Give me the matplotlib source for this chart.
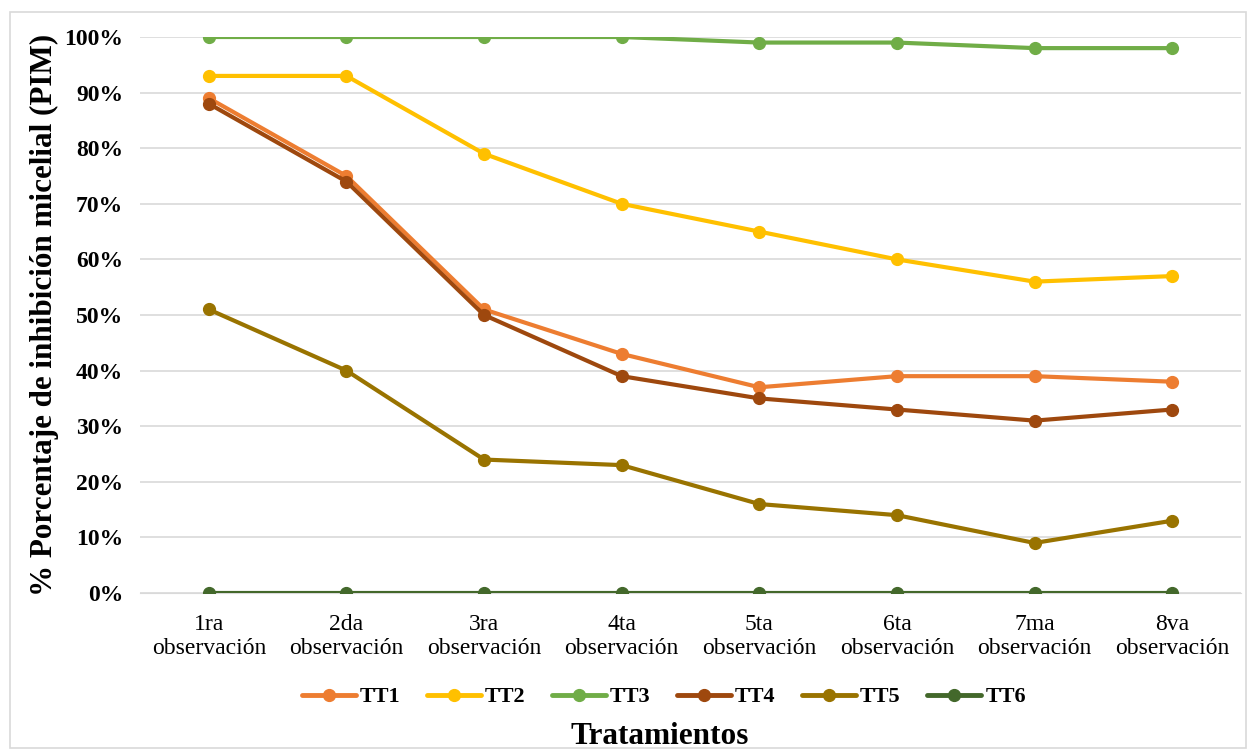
import matplotlib
matplotlib.use("Agg")
import matplotlib.pyplot as plt
from matplotlib.ticker import FuncFormatter
from matplotlib.patches import Rectangle

categories = ["1ra\nobservación", "2da\nobservación", "3ra\nobservación", "4ta\nobservación",
              "5ta\nobservación", "6ta\nobservación", "7ma\nobservación", "8va\nobservación"]
TT1 = [0.89, 0.75, 0.51, 0.43, 0.37, 0.39, 0.39, 0.38]
TT2 = [0.93, 0.93, 0.79, 0.70, 0.65, 0.60, 0.56, 0.57]
TT3 = [1.00, 1.00, 1.00, 1.00, 0.99, 0.99, 0.98, 0.98]
TT4 = [0.88, 0.74, 0.50, 0.39, 0.35, 0.33, 0.31, 0.33]
TT5 = [0.51, 0.40, 0.24, 0.23, 0.16, 0.14, 0.09, 0.13]
TT6 = [0.00, 0.00, 0.00, 0.00, 0.00, 0.00, 0.00, 0.00]
series = [("TT1", TT1, "#ED7D31"), ("TT2", TT2, "#FFC000"), ("TT3", TT3, "#70AD47"),
          ("TT4", TT4, "#9E480E"), ("TT5", TT5, "#997300"), ("TT6", TT6, "#43682B")]

plt.rcParams['font.family'] = ['Liberation Serif', 'DejaVu Serif']

fig = plt.figure(figsize=(12.48, 7.51), dpi=100)
fig.patches.append(Rectangle((10/1248, 1-748/751), 1236/1248, (748-12)/751,
                             transform=fig.transFigure, fill=False,
                             edgecolor="#D9D9D9", linewidth=1.2))
ax = fig.add_axes([140/1248, 1-593/751, (1241-140)/1248, (593-37)/751])

x = list(range(len(categories)))
for name, vals, col in series:
    ax.plot(x, vals, color=col, linewidth=3, marker='o', markersize=8.5, label=name,
            solid_capstyle='round', zorder=3)

ax.set_xlim(-0.5, len(categories) - 0.5)
ax.set_ylim(0, 1.0)
ax.set_yticks([i / 10 for i in range(11)])
ax.yaxis.set_major_formatter(FuncFormatter(lambda v, p: f"{v*100:.0f}%"))
ax.set_xticks(x)
ax.set_xticklabels(categories, fontsize=17, linespacing=1.2)
for lab in ax.get_yticklabels():
    lab.set_fontweight('bold')
    lab.set_fontsize(17)
ax.grid(axis='y', color='#D9D9D9', linewidth=1.2, zorder=0)
ax.set_axisbelow(True)
for s in ax.spines.values():
    s.set_visible(False)
ax.spines['bottom'].set_visible(True)
ax.spines['bottom'].set_color('#D9D9D9')
ax.tick_params(axis='y', length=0, pad=12)
ax.tick_params(axis='x', length=0, pad=15)

ax.set_ylabel("% Porcentaje de inhibición micelial (PIM)", fontsize=22.4, fontweight='bold', labelpad=4)

leg = fig.legend(loc='center', bbox_to_anchor=(664/1248, 1-697/751), ncol=6, frameon=False,
                 prop={'weight': 'bold', 'size': 16}, handlelength=2.4, columnspacing=1.2,
                 handletextpad=0.2)
for h in leg.get_lines():
    h.set_linewidth(3.5)
fig.text(660/1248, 1-737/751, "Tratamientos", ha='center', va='center', fontsize=22.5, fontweight='bold')

fig.savefig("out.png", dpi=100)
